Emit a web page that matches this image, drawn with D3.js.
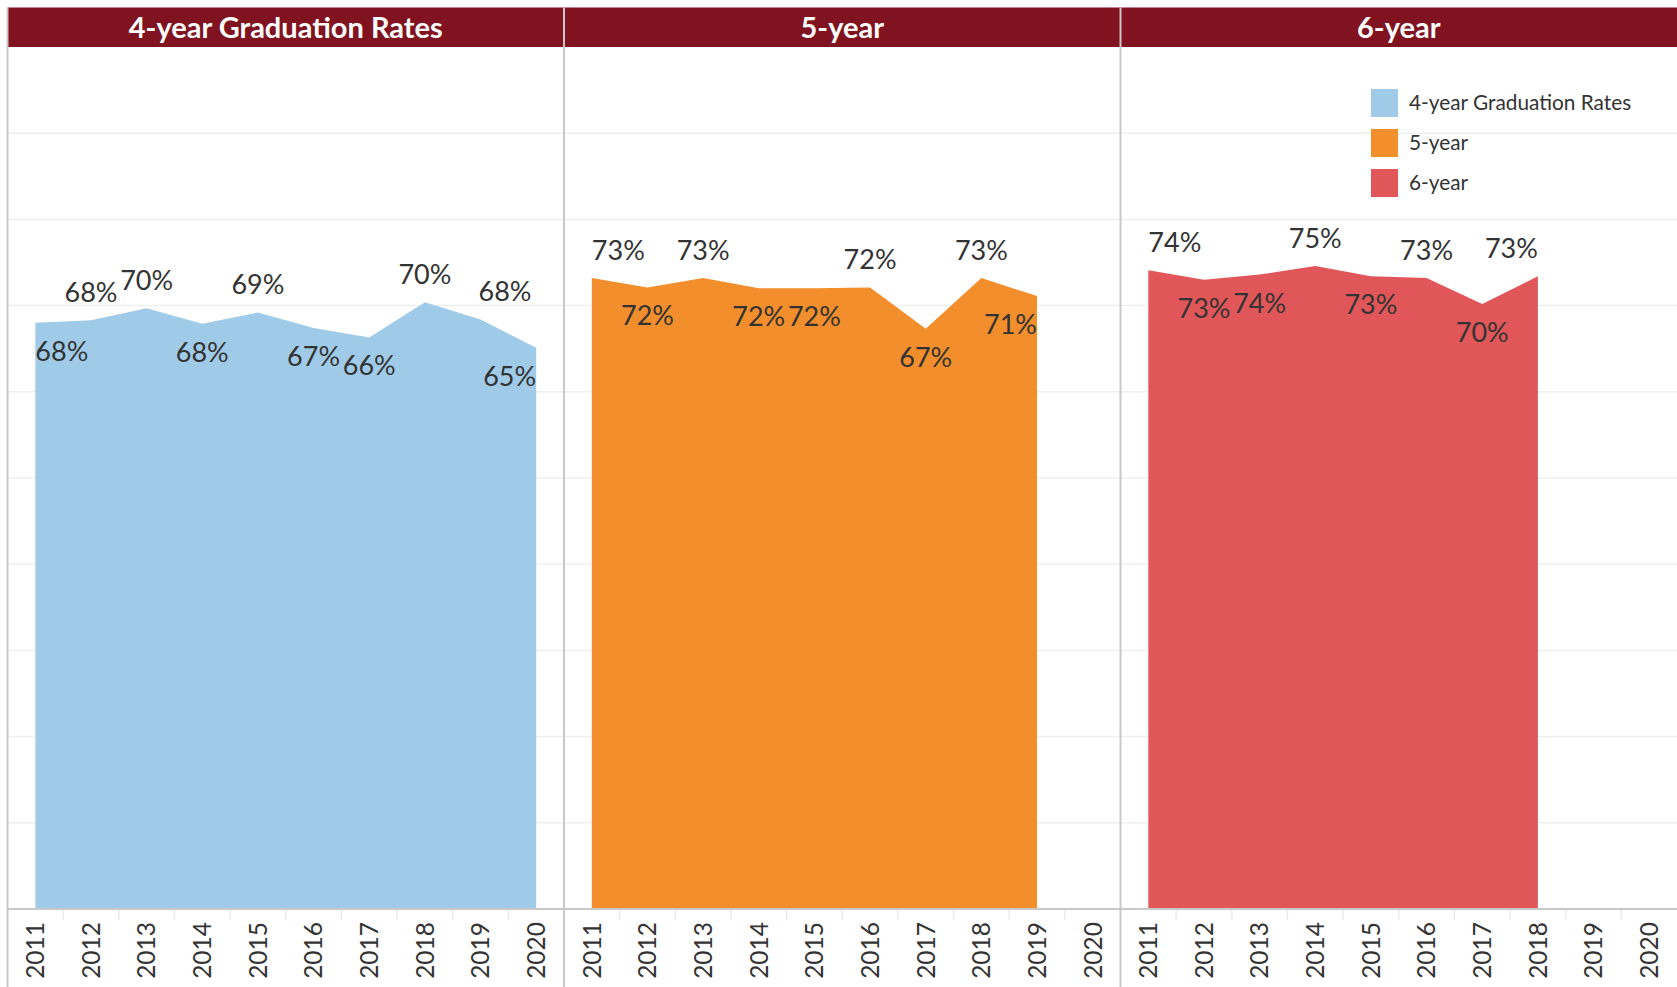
<!DOCTYPE html>
<html>
<head>
<meta charset="utf-8">
<script src="https://cdn.jsdelivr.net/npm/d3@7"></script>
<style>
  body { margin: 0; background: #fff; }
  svg { display: block; font-family: Lato, "Open Sans", sans-serif; }
</style>
</head>
<body>
<svg id="chart" width="1677" height="987"></svg>
<script>
const years = ['2011', '2012', '2013', '2014', '2015', '2016', '2017', '2018', '2019', '2020'];
const panelTitles = ['4-year Graduation Rates', '5-year', '6-year'];
const colors = ['#a0cbe8', '#f28e2b', '#e15759'];

// graduation rates by cohort year (fraction)
const rate4 = [0.680, 0.683, 0.697, 0.679, 0.692, 0.674, 0.663, 0.704, 0.684, 0.651];
const rate5 = [0.732, 0.721, 0.732, 0.720, 0.720, 0.721, 0.673, 0.732, 0.711];
const rate6 = [0.741, 0.730, 0.736, 0.746, 0.734, 0.732, 0.702, 0.734];

// which side of the line each value label sits on ("aboveRight" = pushed off to the right)
const side4 = ['below', 'above', 'above', 'below', 'above', 'below', 'below', 'above', 'aboveRight', 'below'];
const side5 = ['above', 'below', 'above', 'below', 'below', 'above', 'below', 'above', 'below'];
const side6 = ['above', 'below', 'below', 'above', 'below', 'above', 'below', 'above'];

const series = [rate4, rate5, rate6];
const sides = [side4, side5, side6];

const W = 1677, H = 987;
const marginL = 7.5, marginT = 7.5, headerH = 39.5;
const plotTop = marginT + headerH, plotBottom = 909;
const panelW = (W - marginL) / 3;

const svg = d3.select('#chart');
const y = d3.scaleLinear().domain([0, 1]).range([plotBottom, plotTop]);
const fmt = d3.format('.0%');

// header band
svg.append('rect')
  .attr('x', marginL).attr('y', marginT)
  .attr('width', W - marginL).attr('height', headerH)
  .attr('fill', '#80131f');

// horizontal gridlines
svg.append('g')
  .selectAll('line')
  .data(y.ticks(10).filter(t => t > 0 && t < 1))
  .join('line')
  .attr('x1', marginL).attr('x2', W)
  .attr('y1', d => y(d)).attr('y2', d => y(d))
  .attr('stroke', '#efefef')
  .attr('stroke-width', 1.5);

panelTitles.forEach((title, i) => {
  const x0 = marginL + i * panelW;
  const x = d3.scaleBand().domain(years).range([x0, x0 + panelW]);
  const cx = d => x(d) + x.bandwidth() / 2;
  const vals = series[i];
  const pts = vals.map((v, j) => ({ year: years[j], v, side: sides[i][j] }));

  svg.append('text')
    .attr('x', x0 + panelW / 2).attr('y', marginT + headerH / 2)
    .attr('dy', '0.36em')
    .attr('text-anchor', 'middle')
    .attr('fill', '#fff')
    .attr('font-weight', 700)
    .attr('font-size', 29)
    .text(title);

  const area = d3.area()
    .x(d => cx(d.year))
    .y0(plotBottom)
    .y1(d => y(d.v));

  svg.append('path')
    .datum(pts)
    .attr('d', area)
    .attr('fill', colors[i]);

  const last = pts.length - 1;
  svg.append('g')
    .selectAll('text')
    .data(pts)
    .join('text')
    .attr('x', d => d.side === 'aboveRight' ? cx(d.year) - 2 : cx(d.year))
    .attr('y', d => d.side === 'below' ? y(d.v) + 38 : y(d.v) - 18)
    .attr('text-anchor', (d, j) => (j === 0 || d.side === 'aboveRight') ? 'start' : (j === last ? 'end' : 'middle'))
    .attr('font-size', 27)
    .attr('fill', '#333')
    .text(d => fmt(d.v));

  // band separators under the axis
  svg.append('g')
    .selectAll('line')
    .data(years.slice(1))
    .join('line')
    .attr('x1', d => x(d)).attr('x2', d => x(d))
    .attr('y1', plotBottom).attr('y2', plotBottom + 11)
    .attr('stroke', '#ebebeb')
    .attr('stroke-width', 1.5);

  const axis = svg.append('g')
    .attr('transform', `translate(0,${plotBottom})`)
    .call(d3.axisBottom(x).tickSize(0).tickPadding(0));
  axis.select('.domain').remove();
  axis.selectAll('text')
    .attr('transform', 'rotate(-90)')
    .attr('text-anchor', 'end')
    .attr('x', -13).attr('y', 0).attr('dy', '0.36em')
    .attr('font-size', 24.5)
    .attr('font-family', 'Lato, "Open Sans", sans-serif')
    .attr('fill', '#333');
});

// axis baseline
svg.append('line')
  .attr('x1', marginL).attr('x2', W)
  .attr('y1', plotBottom).attr('y2', plotBottom)
  .attr('stroke', '#c8c8c8').attr('stroke-width', 2);

// panel dividers
svg.append('g')
  .selectAll('line')
  .data([0, 1, 2])
  .join('line')
  .attr('x1', i => marginL + i * panelW).attr('x2', i => marginL + i * panelW)
  .attr('y1', marginT).attr('y2', H)
  .attr('stroke', '#c8c8c8').attr('stroke-width', 2);

// legend
const legend = svg.append('g')
  .attr('transform', 'translate(1371,89)');
const item = legend.selectAll('g')
  .data(panelTitles)
  .join('g')
  .attr('transform', (d, i) => `translate(0,${i * 40})`);
item.append('rect')
  .attr('width', 27).attr('height', 28)
  .attr('fill', (d, i) => colors[i]);
item.append('text')
  .attr('x', 38).attr('y', 14).attr('dy', '0.36em')
  .attr('font-size', 20.8)
  .attr('fill', '#333')
  .text(d => d);
</script>
</body>
</html>
